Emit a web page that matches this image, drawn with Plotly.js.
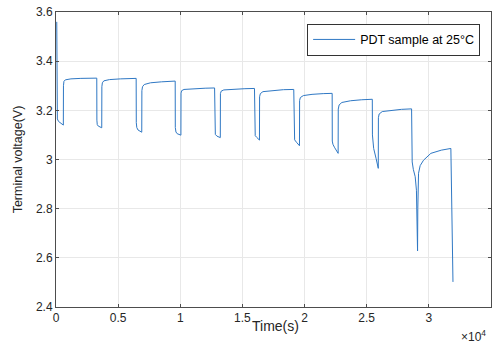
<!DOCTYPE html>
<html>
<head>
<meta charset="utf-8">
<script src="https://cdn.plot.ly/plotly-3.0.1.min.js"></script>
<style>html,body{margin:0;padding:0;background:#fff;}#chart{width:496px;height:343px;}</style>
</head>
<body>
<div id="chart"></div>
<script>
// Time (s) of the pulse discharge test trace
const timeS = [
  60, 75, 110, 200, 350, 500, 590,
  600, 640, 750, 1200, 2000, 3280,
  3290, 3320, 3400, 3550, 3680,
  3690, 3730, 3850, 4300, 5200, 6450,
  6460, 6500, 6600, 6750, 6900,
  6910, 6960, 7100, 7600, 8500, 9590,
  9600, 9650, 9750, 9900, 10050,
  10060, 10110, 10300, 11000, 12000, 12760,
  12770, 12820, 12950, 13100, 13220,
  13230, 13290, 13500, 14300, 15200, 15970,
  15980, 16030, 16150, 16280, 16370,
  16380, 16440, 16650, 17400, 18300, 19130,
  19140, 19200, 19350, 19500, 19590,
  19600, 19660, 19900, 20600, 21500, 22220,
  22230, 22280, 22400, 22550, 22700,
  22710, 22780, 23000, 23700, 24600, 25450,
  25460, 25500, 25560, 25750, 25930,
  25940, 26000, 26250, 26900, 27800, 28610,
  28620, 28660, 28750, 28900, 29000, 29090,
  29110, 29170, 29300, 29570, 30160, 31000, 31770,
  31800, 31940
];
// Terminal voltage (V)
const voltageV = [
  3.560, 3.200, 3.165, 3.155, 3.148, 3.143, 3.140,
  3.300, 3.318, 3.324, 3.328, 3.330, 3.331,
  3.160, 3.142, 3.136, 3.132, 3.129,
  3.296, 3.312, 3.320, 3.325, 3.328, 3.330,
  3.150, 3.130, 3.120, 3.115, 3.111,
  3.280, 3.296, 3.305, 3.312, 3.316, 3.319,
  3.130, 3.112, 3.105, 3.101, 3.099,
  3.270, 3.280, 3.285, 3.288, 3.290, 3.291,
  3.120, 3.102, 3.095, 3.091, 3.089,
  3.268, 3.278, 3.283, 3.286, 3.288, 3.289,
  3.110, 3.097, 3.090, 3.083, 3.079,
  3.255, 3.268, 3.276, 3.281, 3.284, 3.285,
  3.095, 3.080, 3.070, 3.060, 3.056,
  3.240, 3.252, 3.260, 3.265, 3.268, 3.269,
  3.075, 3.062, 3.050, 3.037, 3.025,
  3.205, 3.222, 3.232, 3.239, 3.243, 3.245,
  3.100, 3.060, 3.045, 3.005, 2.964,
  3.170, 3.185, 3.195, 3.200, 3.204, 3.206,
  3.020, 2.990, 2.960, 2.930, 2.875, 2.628,
  2.800, 2.944, 2.975, 2.997, 3.025, 3.038, 3.045,
  2.900, 2.502
];
const seriesName = 'PDT sample at 25\u00B0C';
const xTitle = 'Time(s)';
const yTitle = 'Terminal voltage(V)';
const xExponent = '\u00D710<sup>4</sup>';
const xTickVals = [0, 5000, 10000, 15000, 20000, 25000, 30000, 35000];
const xTickText = ['0', '0.5', '1', '1.5', '2', '2.5', '3', '3.5'];
const yTickVals = [2.4, 2.6, 2.8, 3.0, 3.2, 3.4, 3.6];
const yTickText = ['2.4', '2.6', '2.8', '3', '3.2', '3.4', '3.6'];

const font = 'Liberation Sans, Arial, Helvetica, sans-serif';
const axisColor = '#4d4d4d';

const trace = {
  x: timeS, y: voltageV, type: 'scatter', mode: 'lines', name: seriesName,
  line: {color: '#2f78c4', width: 1}
};

const layout = {
  width: 496, height: 343,
  margin: {l: 56, r: 5, t: 12, b: 36},
  paper_bgcolor: '#ffffff', plot_bgcolor: '#ffffff',
  font: {family: font, size: 12, color: '#262626'},
  showlegend: true,
  legend: {
    x: 0.975, xanchor: 'right', y: 0.96, yanchor: 'top',
    bgcolor: '#ffffff', bordercolor: '#333333', borderwidth: 1,
    font: {family: font, size: 12.5, color: '#000'},
    itemwidth: 42, tracegroupgap: 0
  },
  xaxis: {
    range: [0, 35000], tickvals: xTickVals, ticktext: xTickText,
    ticks: 'inside', ticklen: 3, tickcolor: axisColor, tickwidth: 1,
    showline: true, linecolor: axisColor, linewidth: 1, mirror: 'ticks',
    showgrid: true, gridcolor: '#e8e8e8', gridwidth: 1, zeroline: false,
    tickfont: {family: font, size: 12, color: '#262626'}
  },
  yaxis: {
    range: [2.4, 3.6], tickvals: yTickVals, ticktext: yTickText,
    ticks: 'inside', ticklen: 3, tickcolor: axisColor, tickwidth: 1,
    showline: true, linecolor: axisColor, linewidth: 1, mirror: 'ticks',
    showgrid: true, gridcolor: '#e8e8e8', gridwidth: 1, zeroline: false,
    tickfont: {family: font, size: 12, color: '#262626'},
    title: {text: yTitle, font: {family: font, size: 12.5, color: '#262626'}, standoff: 10}
  },
  annotations: [
    {
      xref: 'paper', yref: 'paper', x: 0.5, y: 0, xanchor: 'center', yanchor: 'middle',
      yshift: -19, xshift: 2, text: xTitle, showarrow: false,
      font: {family: font, size: 14, color: '#262626'}
    },
    {
      xref: 'paper', yref: 'paper', x: 1, y: 0, xanchor: 'right', yanchor: 'middle',
      yshift: -29, xshift: -3, text: xExponent, showarrow: false,
      font: {family: font, size: 12, color: '#262626'}
    }
  ]
};

Plotly.newPlot('chart', [trace], layout, {displayModeBar: false, staticPlot: true});
</script>
</body>
</html>
